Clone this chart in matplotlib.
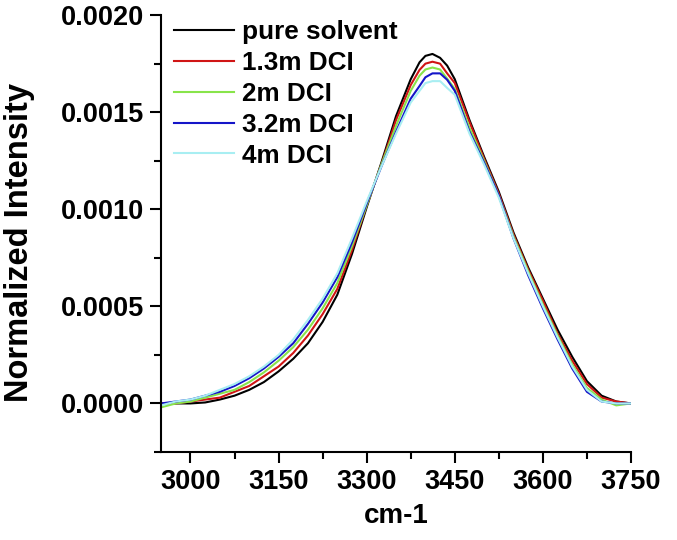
import matplotlib
matplotlib.use("Agg")
import matplotlib.pyplot as plt
from matplotlib.ticker import MultipleLocator, FormatStrFormatter

plt.rcParams['font.family'] = ['Liberation Sans', 'DejaVu Sans']
plt.rcParams['font.weight'] = 'bold'

wavenumber = [2950, 2975, 3000, 3025, 3050, 3075, 3100, 3125, 3150, 3175, 3200,
              3225, 3250, 3275, 3300, 3325, 3350, 3375, 3390, 3400, 3412, 3425, 3437, 3450,
              3475, 3500, 3525, 3550, 3575, 3600, 3625, 3650, 3675, 3700, 3725, 3750]

pure_solvent = [0.0, 0.0, 0.0, 0.000005, 0.00002, 0.00004, 0.00007, 0.00011, 0.000165,
                0.00023, 0.00031, 0.00042, 0.00056, 0.00077, 0.00101, 0.00124, 0.00148,
                0.00167, 0.001757, 0.00179, 0.00180, 0.00178, 0.00174, 0.00167, 0.00146, 0.00127, 0.00109,
                0.00088, 0.00070, 0.00054, 0.00038, 0.00024, 0.000115, 0.00004, 0.00001, 0.0]
dcl_1_3m = [0.0, 0.0, 0.00001, 0.00002, 0.00003, 0.00006, 0.00009, 0.00014, 0.00019,
            0.00026, 0.00035, 0.00046, 0.00059, 0.00079, 0.00102, 0.00123, 0.00146,
            0.00164, 0.001718, 0.00175, 0.00176, 0.00175, 0.00170, 0.00165, 0.00145, 0.00126, 0.00108,
            0.00087, 0.00069, 0.00053, 0.00036, 0.00022, 0.00010, 0.00003, 0.00001, 0.0]
dcl_2m = [-0.00002, 0.0, 0.00001, 0.00003, 0.00005, 0.00007, 0.00011, 0.00016, 0.00022,
          0.00029, 0.00038, 0.00049, 0.00062, 0.00081, 0.00102, 0.00123, 0.00143,
          0.00161, 0.001688, 0.00172, 0.00173, 0.00172, 0.001673, 0.00162, 0.00142, 0.00125, 0.00107,
          0.00086, 0.00068, 0.00051, 0.00035, 0.00020, 0.00008, 0.00002, -0.00001, 0.0]
dcl_3_2m = [0.0, 0.00001, 0.00002, 0.00004, 0.00006, 0.00009, 0.00013, 0.00018, 0.00024,
            0.00031, 0.00041, 0.00052, 0.00065, 0.00083, 0.00103, 0.00122, 0.00140,
            0.00157, 0.001635, 0.00168, 0.00170, 0.00170, 0.001667, 0.00161, 0.00140, 0.00124, 0.00107,
            0.00085, 0.00066, 0.00049, 0.00033, 0.00018, 0.00006, 0.00001, 0.0, 0.0]
dcl_4m = [-0.00001, 0.00001, 0.00002, 0.00004, 0.00007, 0.00010, 0.00014, 0.00019, 0.00025,
          0.00033, 0.00043, 0.00054, 0.00067, 0.00085, 0.00104, 0.00122, 0.00139,
          0.00155, 0.00161, 0.00165, 0.00166, 0.00166, 0.001625, 0.00159, 0.00139, 0.00123, 0.00106,
          0.00085, 0.00067, 0.00050, 0.00034, 0.00019, 0.00007, 0.00001, 0.0, 0.0]

labels = ["pure solvent", "1.3m DCI", "2m DCI", "3.2m DCI", "4m DCI"]
colors = ["#000000", "#d01515", "#88e44a", "#1515c8", "#a8eef2"]
series = [pure_solvent, dcl_1_3m, dcl_2m, dcl_3_2m, dcl_4m]

fig = plt.figure(figsize=(6.77, 5.40), dpi=100)
ax = fig.add_axes([0.238, 0.163, 0.694, 0.809])

for ys, c, lab in zip(series, colors, labels):
    ax.plot(wavenumber, ys, color=c, lw=1.5, label=lab)

ax.set_xlim(2950, 3750)
ax.set_ylim(-0.00025, 0.0020)
ax.xaxis.set_major_locator(MultipleLocator(150))
ax.xaxis.set_minor_locator(MultipleLocator(75))
ax.yaxis.set_major_locator(MultipleLocator(0.0005))
ax.yaxis.set_minor_locator(MultipleLocator(0.00025))
ax.yaxis.set_major_formatter(FormatStrFormatter('%.4f'))

for s in ['top', 'right']:
    ax.spines[s].set_visible(False)
for s in ['left', 'bottom']:
    ax.spines[s].set_linewidth(1.5)

ax.tick_params(which='major', direction='out', length=8, width=1.5, labelsize=19.5, pad=4)
ax.tick_params(which='minor', direction='out', length=5, width=1.5)
for lbl in ax.get_xticklabels() + ax.get_yticklabels():
    lbl.set_fontweight('bold')

ax.set_xlabel("cm-1", fontsize=20, fontweight='bold', labelpad=6)
ax.set_ylabel("Normalized Intensity", fontsize=23.5, fontweight='bold')
ax.yaxis.set_label_coords(-0.268, 0.48)

leg = ax.legend(loc='upper left', bbox_to_anchor=(0.028, 0.988), frameon=False,
                fontsize=18.8, handlelength=2.3, handletextpad=0.3, labelspacing=0.26,
                borderaxespad=0, borderpad=0)
for t in leg.get_texts():
    t.set_fontweight('bold')

fig.savefig("out.png", dpi=100)
